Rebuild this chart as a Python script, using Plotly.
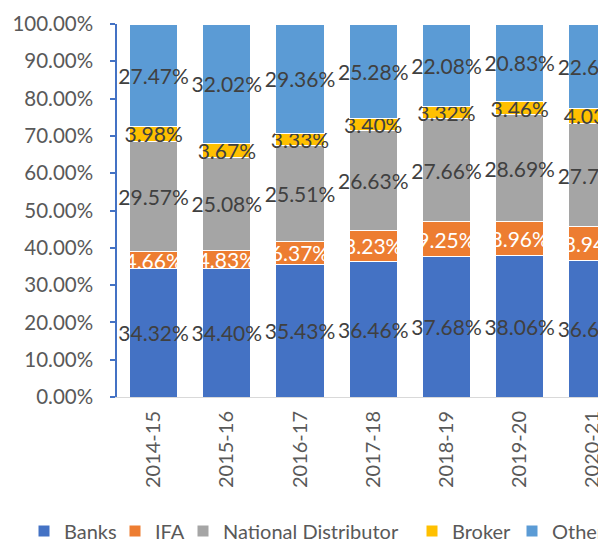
import plotly.graph_objects as go

years = ["2014-15", "2015-16", "2016-17", "2017-18", "2018-19", "2019-20", "2020-21"]
banks = [34.32, 34.40, 35.43, 36.46, 37.68, 38.06, 36.65]
ifa = [4.66, 4.83, 6.37, 8.23, 9.25, 8.96, 8.94]
national = [29.57, 25.08, 25.51, 26.63, 27.66, 28.69, 27.74]
broker = [3.98, 3.67, 3.33, 3.40, 3.32, 3.46, 4.03]
others = [27.47, 32.02, 29.36, 25.28, 22.08, 20.83, 22.64]

series = [
    ("Banks", banks, "#4472C4", "#404040"),
    ("IFA", ifa, "#ED7D31", "#FFFFFF"),
    ("National Distributor", national, "#A5A5A5", "#404040"),
    ("Broker", broker, "#FFC000", "#404040"),
    ("Others", others, "#5B9BD5", "#404040"),
]
legend_ids = ["legend", "legend2", "legend3", "legend4", "legend5"]
legend_x = [24, 115, 183, 412, 512]

FONT = "Lato"
W, H = 598, 540
fig = go.Figure()
for (name, vals, color, tcolor), lid in zip(series, legend_ids):
    fig.add_trace(go.Bar(
        name=name, x=years, y=vals, legend=lid,
        marker=dict(color=color, line=dict(color="#FFFFFF", width=1)),
        texttemplate="%{y:.2f}%",
        textposition="inside",
        insidetextanchor="middle",
        constraintext="none",
        textangle=0,
        textfont=dict(family=FONT, size=21, color=tcolor),
        cliponaxis=True,
    ))

legends = {}
for lid, lx in zip(legend_ids, legend_x):
    legends[lid] = dict(
        orientation="h", xref="container", yref="container",
        x=lx / W, y=9 / H, xanchor="left", yanchor="middle",
        font=dict(family=FONT, size=20, color="#595959"),
        itemwidth=30, bgcolor="rgba(0,0,0,0)",
    )

fig.update_layout(
    barmode="stack",
    bargap=0.34,
    width=W, height=H,
    margin=dict(l=117, r=0, t=24, b=143, autoexpand=False),
    paper_bgcolor="white", plot_bgcolor="white",
    font=dict(family=FONT, color="#595959", size=20),
    showlegend=True,
    **legends,
)
fig.update_xaxes(
    range=[-0.5, 6.07], tickangle=-90,
    showline=True, linecolor="#D9D9D9", linewidth=1,
    ticks="", showgrid=False, ticklabelstandoff=5,
    tickfont=dict(family=FONT, size=20, color="#595959"),
)
fig.update_yaxes(
    range=[0, 100], dtick=10, tickformat=".2f", ticksuffix="%",
    showline=True, linecolor="#4472C4", linewidth=1.5,
    ticks="outside", ticklen=5, tickcolor="#4472C4", tickwidth=1.5,
    showgrid=False, zeroline=False, ticklabelstandoff=13,
    tickfont=dict(family=FONT, size=20.5, color="#595959"),
)

fig.write_html(
    "out.html",
    config={"displayModeBar": False},
    post_script="document.body.style.margin='0';document.body.style.overflow='hidden';",
)
